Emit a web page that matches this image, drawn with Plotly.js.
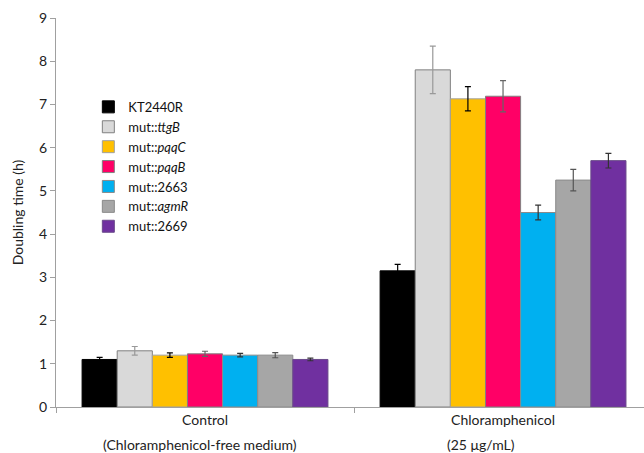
<!DOCTYPE html>
<html>
<head>
<meta charset="utf-8">
<script src="https://cdn.plot.ly/plotly-3.0.1.min.js"></script>
<style>html,body{margin:0;padding:0;background:#fff;}#chart{width:644px;height:453px;}</style>
</head>
<body>
<div id="chart"></div>
<script>
const categories = ["Control", "Chloramphenicol"];
const subLabels = ["(Chloramphenicol-free medium)", "(25 μg/mL)"];
const seriesNames = ["KT2440R", "mut::<i>ttgB</i>", "mut::<i>pqqC</i>", "mut::<i>pqqB</i>", "mut::2663", "mut::<i>agmR</i>", "mut::2669"];
const KT2440R = [1.10, 3.15];
const ttgB    = [1.30, 7.80];
const pqqC    = [1.20, 7.13];
const pqqB    = [1.23, 7.19];
const m2663   = [1.20, 4.50];
const agmR    = [1.20, 5.25];
const m2669   = [1.10, 5.70];
const KT2440R_err = [0.05, 0.15];
const ttgB_err    = [0.10, 0.55];
const pqqC_err    = [0.05, 0.28];
const pqqB_err    = [0.06, 0.36];
const m2663_err   = [0.04, 0.17];
const agmR_err    = [0.06, 0.25];
const m2669_err   = [0.03, 0.17];

const values = [KT2440R, ttgB, pqqC, pqqB, m2663, agmR, m2669];
const errs = [KT2440R_err, ttgB_err, pqqC_err, pqqB_err, m2663_err, agmR_err, m2669_err];
const colors = ["#000000", "#d9d9d9", "#ffc000", "#ff0066", "#00b0f0", "#a6a6a6", "#7030a0"];
const lineColors = ["#000000", "#808080", "#a0a0a0", "#808080", "#8a8a8a", "#8a8a8a", "#6a4a8a"];
const errColors = ["#000000", "#999999", "#000000", "#666666", "#333333", "#555555", "#333333"];

const traces = values.map((v, i) => ({
  type: "bar",
  name: seriesNames[i],
  x: categories,
  y: v,
  marker: {color: colors[i], line: {color: lineColors[i], width: 1}},
  error_y: {type: "data", array: errs[i], visible: true, color: errColors[i], thickness: 1.2, width: 3}
}));

const fontFam = "Lato, 'Open Sans', sans-serif";
const layout = {
  width: 644, height: 453,
  margin: {l: 56, r: 0, t: 18, b: 46},
  paper_bgcolor: "#fff", plot_bgcolor: "#fff",
  font: {family: fontFam, size: 14, color: "#222"},
  barmode: "group",
  bargap: 0.175,
  bargroupgap: 0,
  showlegend: true,
  legend: {
    x: 0.055, y: 0.81, xanchor: "left", yanchor: "top",
    font: {family: fontFam, size: 13, color: "#111"},
    bgcolor: "rgba(0,0,0,0)", itemwidth: 30, tracegroupgap: 0
  },
  xaxis: {
    type: "category",
    range: [-0.5, 1.473],
    showline: true, linecolor: "#a0a0a0", linewidth: 1,
    ticks: "outside", tickson: "boundaries", ticklen: 5, tickcolor: "#a0a0a0",
    showgrid: false, zeroline: false,
    tickfont: {family: fontFam, size: 14, color: "#222"},
    fixedrange: true
  },
  yaxis: {
    range: [0, 9],
    dtick: 1,
    showline: true, linecolor: "#a0a0a0", linewidth: 1,
    ticks: "outside", ticklen: 5, tickcolor: "#a0a0a0",
    showgrid: false, zeroline: false,
    tickfont: {family: fontFam, size: 14, color: "#222"},
    title: {text: "Doubling time (h)", font: {family: fontFam, size: 14, color: "#222"}, standoff: 12}
  },
  annotations: subLabels.map((t, i) => ({
    text: t, xref: "x", yref: "paper", x: categories[i], y: 0, yanchor: "top",
    yshift: -27, xshift: i === 0 ? -5 : -22, showarrow: false,
    font: {family: fontFam, size: 14, color: "#222"}
  }))
};

Plotly.newPlot("chart", traces, layout, {displayModeBar: false, staticPlot: true});
</script>
</body>
</html>
